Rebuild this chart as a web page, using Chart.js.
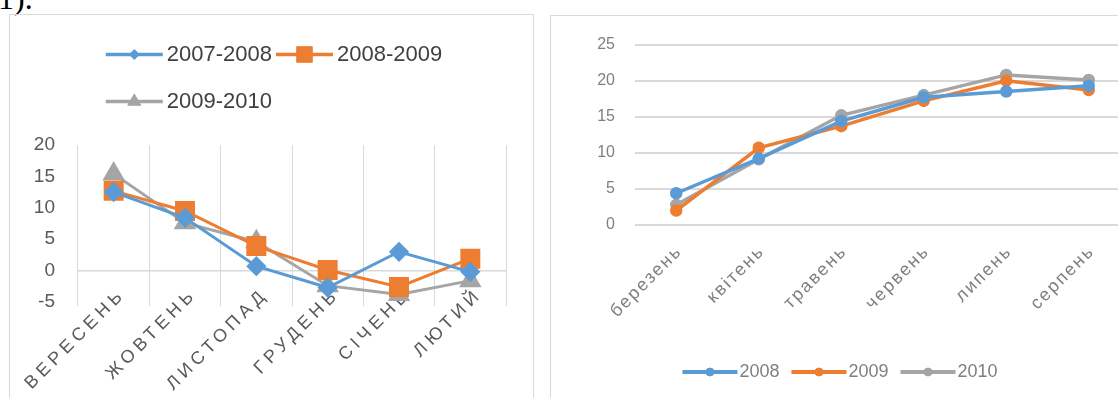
<!DOCTYPE html>
<html>
<head>
<meta charset="utf-8">
<script src="https://cdn.jsdelivr.net/npm/chart.js@4/dist/chart.umd.min.js"></script>
<style>
  html, body { margin: 0; padding: 0; background: #fff; }
  body { width: 1118px; height: 398px; overflow: hidden; position: relative; }
  #note { position: absolute; left: -2px; top: -18px; font: 32px/32px 'Liberation Serif', serif; color: #000; }
  canvas { position: absolute; }
  #leftChart { left: 9px; top: 14px; }
  #rightChart { left: 550px; top: 15px; }
  .frame { position: absolute; border: 1px solid #d9d9d9; box-sizing: border-box; pointer-events: none; }
  #frameL { left: 9px; top: 14px; width: 525px; height: 420px; }
  #frameR { left: 550px; top: 15px; width: 600px; height: 420px; }
</style>
</head>
<body>
<div id="note">1).</div>
<canvas id="leftChart" width="524" height="400"></canvas>
<canvas id="rightChart" width="590" height="400"></canvas>
<div class="frame" id="frameL"></div>
<div class="frame" id="frameR"></div>
<script>
// left chart: autumn-winter months
const monthsL = ['ВЕРЕСЕНЬ', 'ЖОВТЕНЬ', 'ЛИСТОПАД', 'ГРУДЕНЬ', 'СІЧЕНЬ', 'ЛЮТИЙ'];
const season0708 = [12.5, 8.4, 0.7, -2.7, 3.0, -0.2];
const season0809 = [12.7, 9.5, 3.9, 0.1, -2.6, 1.9];
const season0910 = [15.4, 7.6, 4.6, -2.4, -3.8, -1.6];
const seasonNames = ['2007-2008', '2008-2009', '2009-2010'];

// right chart: spring-summer months
const monthsR = ['березень', 'квітень', 'травень', 'червень', 'липень', 'серпень'];
const year2008 = [4.4, 9.2, 14.4, 17.7, 18.5, 19.3];
const year2009 = [2.0, 10.7, 13.7, 17.2, 20.0, 18.7];
const year2010 = [2.8, 9.1, 15.2, 18.0, 20.8, 20.1];
const yearNames = ['2008', '2009', '2010'];

const BLUE = '#5b9bd5', ORANGE = '#ed7d31', GRAY = '#a5a5a5';

Chart.defaults.font.family = "'Liberation Sans', Arial, sans-serif";
Chart.defaults.animation = false;

// hide the default legend box, the sample (line + marker) is drawn by legendSamples
function invisibleBoxes(chart){
  return Chart.defaults.plugins.legend.labels.generateLabels(chart).map(l => ({
    ...l, fillStyle: 'rgba(0,0,0,0)', strokeStyle: 'rgba(0,0,0,0)', lineWidth: 0
  }));
}

function legendSamples(len, gap, lineW){
  return {
    id: 'legendSamples',
    afterDraw(chart){
      const lg = chart.legend;
      const ctx = chart.ctx;
      const labels = lg.options.labels;
      const fs = labels.font.size;
      lg.legendHitBoxes.forEach((hb, i) => {
        const ds = chart.data.datasets[i];
        const x1 = hb.left + labels.boxWidth + fs / 2 - gap;
        const x0 = x1 - len;
        const y = hb.top + hb.height / 2;
        ctx.save();
        ctx.strokeStyle = ds.borderColor;
        ctx.fillStyle = ds.borderColor;
        ctx.lineWidth = lineW;
        ctx.beginPath(); ctx.moveTo(x0, y); ctx.lineTo(x1, y); ctx.stroke();
        ctx.lineWidth = 1;
        Chart.helpers.drawPoint(ctx, {pointStyle: ds.pointStyle, radius: ds.legendRadius, rotation: 0, borderWidth: 1}, (x0 + x1) / 2, y);
        ctx.restore();
      });
    }
  };
}

// second legend row starts under the first one (excel style), both nudged right
const legendShift = 27;
const alignRows = {
  id: 'alignRows',
  afterLayout(chart){
    const lg = chart.legend;
    const w = lg.lineWidths[0] - legendShift;
    for(let r = 0; r < lg.lineWidths.length; r++) lg.lineWidths[r] = w;
  }
};

// letter spacing on the category labels, and no clipping of tick labels to the axis box
function spacedTicks(spacing){
  return {
    id: 'spacedTicks',
    beforeDraw(chart){
      const sc = chart.scales.x;
      if(sc._spaced) return;
      const orig = sc.drawLabels;
      sc.drawLabels = function(area){
        const c = this.ctx;
        c.save(); c.letterSpacing = spacing;
        orig.call(this, area);
        c.restore();
      };
      Object.values(chart.scales).forEach(s => { s._computeLabelArea = () => undefined; });
      sc._spaced = true;
    }
  };
}

new Chart(document.getElementById('leftChart'), {
  type: 'line',
  data: {
    labels: monthsL,
    datasets: [
      {label: seasonNames[0], data: season0708, borderColor: BLUE, backgroundColor: BLUE, borderWidth: 3,
        pointStyle: 'rectRot', pointRadius: 8, legendRadius: 5},
      {label: seasonNames[1], data: season0809, borderColor: ORANGE, backgroundColor: ORANGE, borderWidth: 3,
        pointStyle: 'rect', pointRadius: 12, legendRadius: 11},
      {label: seasonNames[2], data: season0910, borderColor: GRAY, backgroundColor: GRAY, borderWidth: 3,
        pointStyle: 'triangle', pointRadius: 10, legendRadius: 7.5}
    ]
  },
  options: {
    responsive: false,
    layout: {padding: {top: 12, left: 12, right: 27, bottom: 0}},
    plugins: {
      tooltip: {enabled: false},
      title: {display: true, text: '', weight: 500, font: {size: 10}, padding: {top: 0, bottom: 3}},
      legend: {
        position: 'top',
        labels: {
          boxWidth: 44, boxHeight: 37, padding: 10, color: '#404040',
          font: {size: 22}, generateLabels: invisibleBoxes
        }
      }
    },
    scales: {
      x: {
        offset: true,
        grid: {offset: true, color: '#d9d9d9', drawTicks: true, tickLength: 4},
        border: {display: false},
        ticks: {autoSkip: false, minRotation: 45, maxRotation: 45, color: '#595959', font: {size: 18},
          padding: -22, labelOffset: 9},
        afterFit: s => { s.height = 112; }
      },
      y: {
        min: -5, max: 20,
        grid: {color: c => c.tick.value === 0 ? '#d9d9d9' : 'rgba(0,0,0,0)', lineWidth: 1.5, drawTicks: false},
        border: {display: false},
        ticks: {stepSize: 5, color: '#595959', font: {size: 19}, padding: 23},
        afterFit: s => { s.width = 57; }
      }
    }
  },
  plugins: [alignRows, spacedTicks('4.5px'), legendSamples(57, 4, 3.5)]
});

new Chart(document.getElementById('rightChart'), {
  type: 'line',
  data: {
    labels: monthsR,
    datasets: [
      {label: yearNames[0], data: year2008, borderColor: BLUE, backgroundColor: BLUE, borderWidth: 3.5,
        pointStyle: 'circle', pointRadius: 4.5, legendRadius: 4},
      {label: yearNames[1], data: year2009, borderColor: ORANGE, backgroundColor: ORANGE, borderWidth: 3.5,
        pointStyle: 'circle', pointRadius: 4.5, legendRadius: 4},
      {label: yearNames[2], data: year2010, borderColor: GRAY, backgroundColor: GRAY, borderWidth: 3.5,
        pointStyle: 'circle', pointRadius: 4.5, legendRadius: 4}
    ]
  },
  options: {
    responsive: false,
    layout: {padding: {top: 14, left: 0, right: 10, bottom: 24}},
    plugins: {
      tooltip: {enabled: false},
      legend: {
        position: 'bottom',
        labels: {
          boxWidth: 48, padding: 12, color: '#7f7f7f',
          font: {size: 18}, generateLabels: invisibleBoxes
        }
      }
    },
    scales: {
      x: {
        offset: true,
        grid: {display: false},
        border: {display: false},
        ticks: {autoSkip: false, minRotation: 45, maxRotation: 45, color: '#7f7f7f', font: {size: 18},
          padding: 8, labelOffset: 3},
        afterFit: s => { s.height = 126; }
      },
      y: {
        min: 0, max: 25,
        grid: {color: '#d9d9d9', lineWidth: 2, drawTicks: false},
        border: {display: false},
        ticks: {stepSize: 5, color: '#7f7f7f', font: {size: 16}, padding: 20},
        afterFit: s => { s.width = 85; }
      }
    }
  },
  plugins: [spacedTicks('2px'), legendSamples(55, 2, 4)]
});
</script>
</body>
</html>
